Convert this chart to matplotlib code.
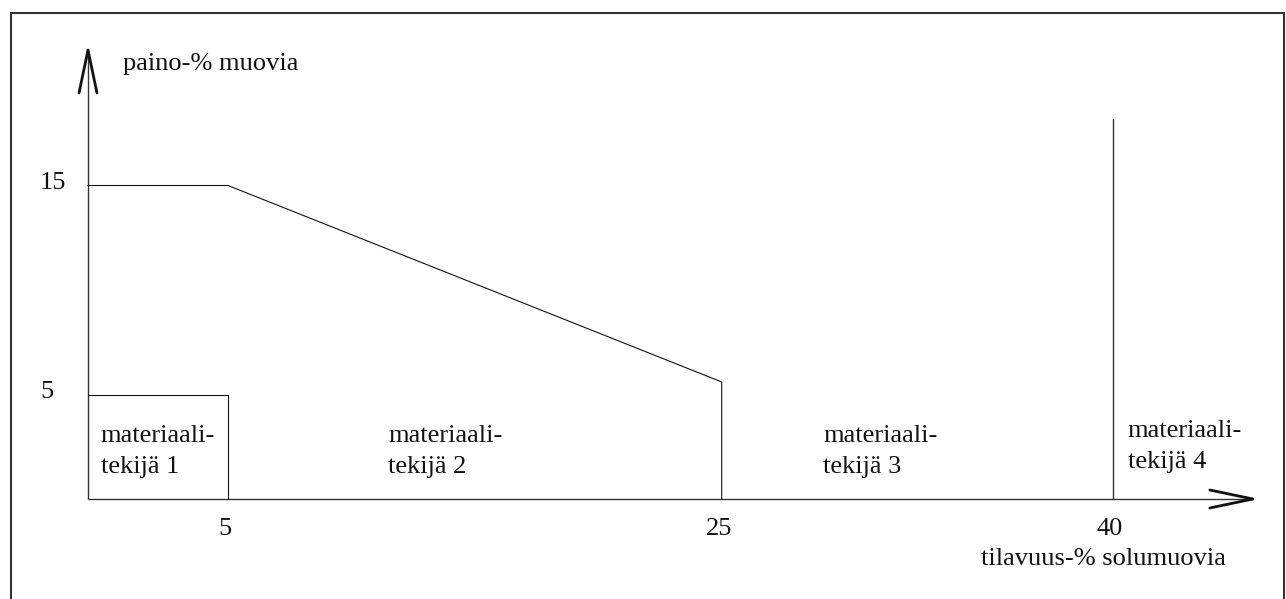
import numpy as np
import matplotlib
matplotlib.use("Agg")
import matplotlib.pyplot as plt
from matplotlib.lines import Line2D

# ---- data ----
boundary_x = [0, 5, 25, 25]
boundary_y = [15, 15, 5.6, 0]
box_x = [0, 5, 5]
box_y = [5, 5, 0]
limit40_x = [40, 40]
limit40_y = [0, 18.2]
x_ticks = [5, 25, 40]
x_tick_labels = ["5", "25", "40"]
y_ticks = [15, 5]
y_tick_labels = ["15", "5"]
x_label = "tilavuus-% solumuovia"
y_label = "paino-% muovia"
region_labels = ["materiaali-\ntekijä 1", "materiaali-\ntekijä 2",
                 "materiaali-\ntekijä 3", "materiaali-\ntekijä 4"]

# ---- layout (positions only) ----
W, H = 1286, 599
KX = np.array([0.0, 5.0, 25.0, 40.0])          # data knots
KP = np.array([88.0, 228.0, 721.7, 1113.0])    # pixel positions of knots
S0 = (KP[1] - KP[0]) / (KX[1] - KX[0])
S1 = (KP[-1] - KP[-2]) / (KX[-1] - KX[-2])
Y0_PIX = 499.0        # pixel row (from top) of y = 0
PX_PER_Y = 20.9

def fwd(x):
    x = np.asarray(x, dtype=float)
    y = np.interp(x, KX, KP)
    y = np.where(x < KX[0], KP[0] + (x - KX[0]) * S0, y)
    y = np.where(x > KX[-1], KP[-1] + (x - KX[-1]) * S1, y)
    return y

def inv(p):
    p = np.asarray(p, dtype=float)
    x = np.interp(p, KP, KX)
    x = np.where(p < KP[0], KX[0] + (p - KP[0]) / S0, x)
    x = np.where(p > KP[-1], KX[-1] + (p - KP[-1]) / S1, x)
    return x

region_pos = [(0.46, 2.73), (11.5, 2.73), (28.9, 2.73), (40.57, 2.97)]
line_gap = 31 / PX_PER_Y
x_axis_end = 45.36
y_axis_end = 21.48

plt.rcParams['font.family'] = ['Liberation Serif', 'DejaVu Serif']
FS = 19
INK = '#111111'

fig = plt.figure(figsize=(W / 100, H / 100), dpi=100)
ax = fig.add_axes([0, 0, 1, 1])
ax.set_xscale('function', functions=(fwd, inv))
ax.set_xlim(float(inv(0)), float(inv(W)))
ax.set_ylim((Y0_PIX - H) / PX_PER_Y, Y0_PIX / PX_PER_Y)
ax.axis('off')

# outer frame
fx = lambda p: p / W
fy = lambda p: 1 - p / H
fig.add_artist(Line2D([fx(11), fx(11), fx(1284), fx(1284)],
                      [0, fy(13), fy(13), 0], transform=fig.transFigure,
                      color='#333333', lw=1.5, solid_joinstyle='miter'))

# axes with arrows
ax.plot([0, 0], [0, y_axis_end], color='#333333', lw=1.0, solid_capstyle='butt')
ax.plot([0, x_axis_end], [0, 0], color='#333333', lw=1.0, solid_capstyle='butt')
for dx, dy in [(-9, -43), (9, -43)]:
    ax.annotate('', xy=(0, y_axis_end), xytext=(dx, dy), textcoords='offset pixels',
                arrowprops=dict(arrowstyle='-', color=INK, lw=2.0,
                                shrinkA=0, shrinkB=0))
for dx, dy in [(-43, 9), (-43, -9)]:
    ax.annotate('', xy=(x_axis_end, 0), xytext=(dx, dy), textcoords='offset pixels',
                arrowprops=dict(arrowstyle='-', color=INK, lw=2.0,
                                shrinkA=0, shrinkB=0))

# data lines
ax.plot(boundary_x, boundary_y, color=INK, lw=0.8)
ax.plot(box_x, box_y, color=INK, lw=0.8)
ax.plot(limit40_x, limit40_y, color='#333333', lw=1.0)

# tick labels
for v, t in zip(x_ticks, x_tick_labels):
    ax.annotate(t, xy=(v, 0), xytext=(-3, -36), textcoords='offset pixels',
                ha='center', va='baseline', fontsize=FS, color=INK)
for v, t in zip(y_ticks, y_tick_labels):
    ax.annotate(t, xy=(0, v), xytext=(-48, -4), textcoords='offset pixels',
                ha='left', va='baseline', fontsize=FS, color=INK)

# axis labels
ax.annotate(x_label, xy=(40, 0), xytext=(-10, -66), textcoords='offset pixels',
            ha='center', va='baseline', fontsize=FS, color=INK)
ax.annotate(y_label, xy=(0, 0), xytext=(35, 429), textcoords='offset pixels',
            ha='left', va='baseline', fontsize=FS, color=INK)

# region labels
for (px, py), lab in zip(region_pos, region_labels):
    for i, line in enumerate(lab.split('\n')):
        ax.text(px, py - i * line_gap, line, ha='left', va='baseline',
                fontsize=FS, color=INK)

fig.savefig('out.png', dpi=100)
